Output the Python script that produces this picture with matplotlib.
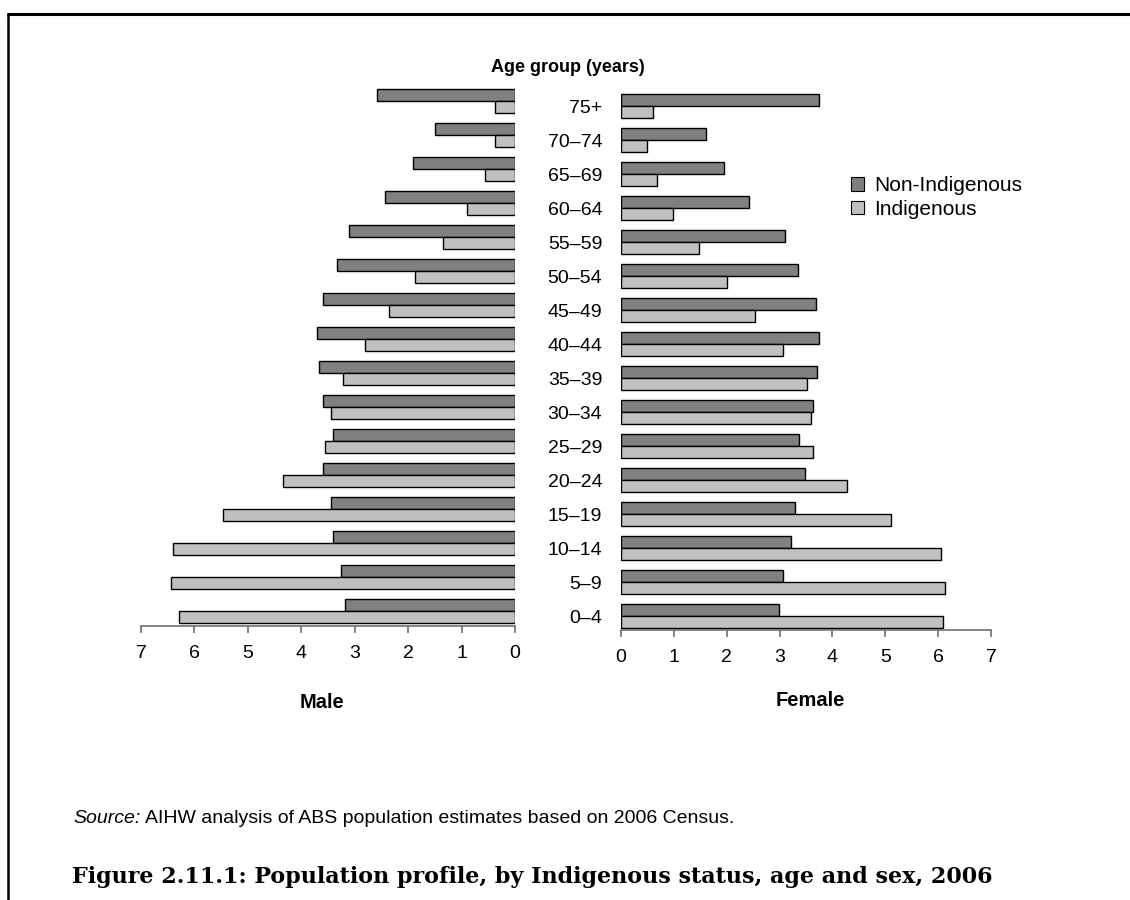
import matplotlib
matplotlib.use("Agg")
import matplotlib.pyplot as plt
from matplotlib.lines import Line2D
from matplotlib.patches import Patch
import numpy as np

plt.rcParams['font.family'] = ['Liberation Sans', 'DejaVu Sans']

age_groups = ["0–4", "5–9", "10–14", "15–19", "20–24", "25–29", "30–34", "35–39",
              "40–44", "45–49", "50–54", "55–59", "60–64", "65–69", "70–74", "75+"]
male_non_indigenous = [3.18, 3.26, 3.41, 3.44, 3.59, 3.41, 3.59, 3.67,
                       3.71, 3.60, 3.34, 3.11, 2.44, 1.91, 1.50, 2.59]
male_indigenous = [6.29, 6.44, 6.41, 5.47, 4.34, 3.56, 3.44, 3.22,
                   2.81, 2.36, 1.88, 1.35, 0.90, 0.56, 0.37, 0.37]
female_non_indigenous = [2.99, 3.06, 3.22, 3.29, 3.48, 3.37, 3.63, 3.71,
                         3.75, 3.68, 3.34, 3.11, 2.43, 1.94, 1.60, 3.75]
female_indigenous = [6.09, 6.13, 6.05, 5.11, 4.28, 3.63, 3.59, 3.52,
                     3.06, 2.54, 2.01, 1.48, 0.98, 0.68, 0.49, 0.61]
x_ticks = [0, 1, 2, 3, 4, 5, 6, 7]

c_non = "#808080"
c_ind = "#c0c0c0"
bar_h = 0.353

fig = plt.figure(figsize=(11.3, 9), dpi=100)
W, H = 1130, 900

y = np.arange(len(age_groups))

ax_l = fig.add_axes([141 / W, 1 - 626 / H, 374 / W, 544 / H])
ax_r = fig.add_axes([621 / W, 1 - 630 / H, 370 / W, 544 / H])

for ax, non, ind in [(ax_l, male_non_indigenous, male_indigenous),
                     (ax_r, female_non_indigenous, female_indigenous)]:
    ax.barh(y + bar_h / 2, non, height=bar_h, color=c_non, edgecolor="black", linewidth=1.0)
    ax.barh(y - bar_h / 2, ind, height=bar_h, color=c_ind, edgecolor="black", linewidth=1.0)
    for s in ["top", "left", "right"]:
        ax.spines[s].set_visible(False)
    ax.spines["bottom"].set_color("#707070")
    ax.spines["bottom"].set_linewidth(1.2)
    ax.set_xticks(x_ticks)
    ax.tick_params(axis="x", direction="out", length=5, width=1.2, color="#707070",
                   labelsize=14, pad=9)
    ax.set_xlim(0, 7)

ax_l.set_ylim(-0.43, 15.57)
ax_r.set_ylim(-0.41, 15.59)
ax_l.invert_xaxis()
ax_l.set_yticks([])
ax_r.set_yticks(y)
ax_r.set_yticklabels(age_groups)
ax_r.tick_params(axis="y", length=0, labelsize=14, pad=13.5)

fig.text(568 / W, 1 - 67 / H, "Age group (years)", ha="center", va="center",
         fontsize=13, fontweight="bold")
fig.text(322 / W, 1 - 703 / H, "Male", ha="center", va="center", fontsize=14.5, fontweight="bold")
fig.text(810 / W, 1 - 701 / H, "Female", ha="center", va="center", fontsize=14.5, fontweight="bold")

handles = [Patch(facecolor=c_non, edgecolor="black", linewidth=0.8),
           Patch(facecolor=c_ind, edgecolor="black", linewidth=0.8)]
fig.legend(handles, ["Non-Indigenous", "Indigenous"], loc="center left",
           bbox_to_anchor=(851 / W, 1 - 197.5 / H), frameon=False, fontsize=15,
           handlelength=0.6, handleheight=0.6, handletextpad=0.5, labelspacing=0.2,
           borderpad=0, borderaxespad=0)

# Source line: italic "Source:" followed by regular text
src_y = 1 - 823 / H
t_src = fig.text(73 / W, src_y, "Source:", ha="left", va="baseline", fontsize=14, style="italic")
renderer = fig.canvas.get_renderer()
bb = t_src.get_window_extent(renderer=renderer)
fig.text((bb.x1 + 5) / W, src_y,
         "AIHW analysis of ABS population estimates based on 2006 Census.",
         ha="left", va="baseline", fontsize=14)

fig.text(72 / W, 1 - 883 / H,
         "Figure 2.11.1: Population profile, by Indigenous status, age and sex, 2006",
         ha="left", va="baseline", fontsize=16, fontweight="bold", family="DejaVu Serif")

fig.add_artist(Line2D([7 / W, 1], [1 - 14 / H, 1 - 14 / H], color="black", linewidth=2.2,
                      transform=fig.transFigure, solid_capstyle="butt"))
fig.add_artist(Line2D([8 / W, 8 / W], [1 - 13 / H, 0], color="black", linewidth=1.8,
                      transform=fig.transFigure, solid_capstyle="butt"))

fig.savefig("out.png", dpi=100)
